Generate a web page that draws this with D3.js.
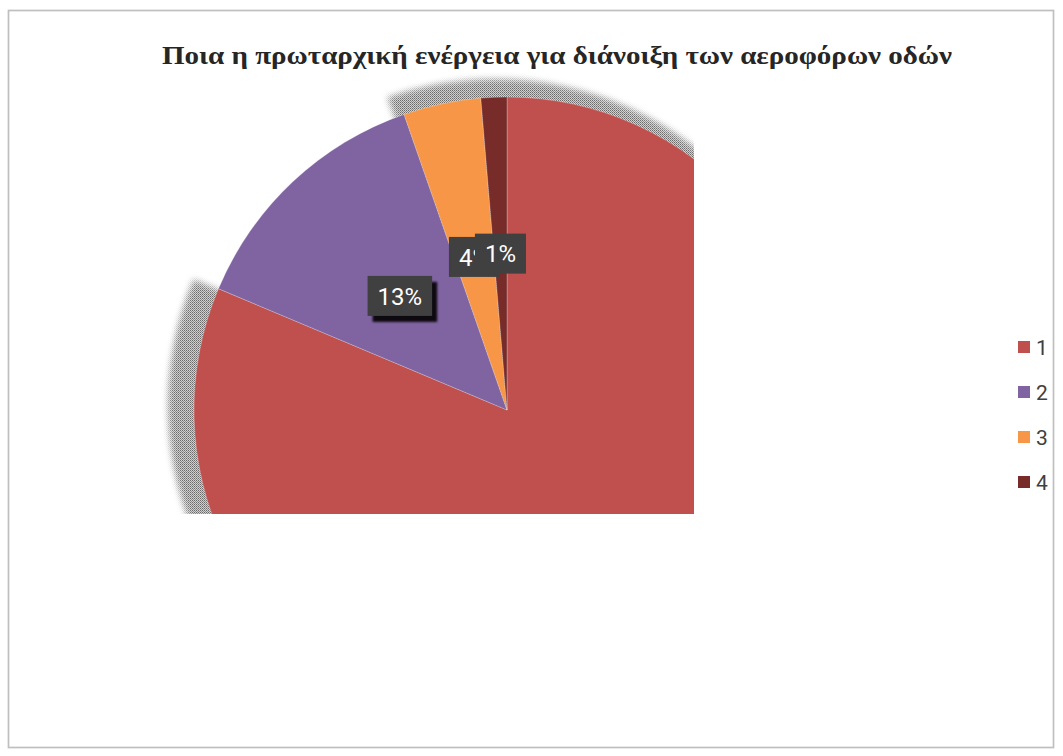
<!DOCTYPE html>
<html>
<head>
<meta charset="utf-8">
<script src="https://cdn.jsdelivr.net/npm/d3@7"></script>
<style>
  html, body { margin: 0; padding: 0; background: #ffffff; }
  svg { display: block; }
</style>
</head>
<body>
<svg id="chart" width="1063" height="756"></svg>
<script>
// Answers to the question (counts per option)
const categories = ["1", "2", "3", "4"];
const counts = [61, 10, 3, 1];
const sliceColors = ["#C0504D", "#8064A2", "#F79646", "#772C2A"];
const titleText = "Ποια η πρωταρχική ενέργεια για διάνοιξη των αεροφόρων οδών";
// slices that carry a drop shadow in the workbook style
const shadowed = [true, false, true, true];

const W = 1063, H = 756;
const cx = 507, cy = 410, R = 313;
const plotClip = { x0: 140, y0: 70, x1: 694, y1: 514 };

const svg = d3.select("#chart");
const defs = svg.append("defs");

// chart frame
svg.append("rect")
  .attr("x", 8.5).attr("y", 10.5)
  .attr("width", 1045).attr("height", 737)
  .attr("fill", "#ffffff")
  .attr("stroke", "#bfbfbf").attr("stroke-width", 1.7);

// title
const title = svg.append("text")
  .attr("x", 557).attr("y", 64)
  .attr("text-anchor", "middle")
  .attr("font-family", "'Liberation Serif', 'Times New Roman', serif")
  .attr("font-weight", "bold")
  .attr("font-size", 24.5)
  .attr("fill", "#262626")
  .text(titleText);
{
  const tw = title.node().getComputedTextLength();
  const target = 790;
  if (Math.abs(tw - target) > 4) {
    title.attr("textLength", target).attr("lengthAdjust", "spacingAndGlyphs");
  }
}

// clip for plot area
defs.append("clipPath").attr("id", "plotClip")
  .append("rect")
  .attr("x", plotClip.x0).attr("y", plotClip.y0)
  .attr("width", plotClip.x1 - plotClip.x0)
  .attr("height", plotClip.y1 - plotClip.y0);

// halftone pattern for shadows
const pat = defs.append("pattern").attr("id", "halftone")
  .attr("width", 2).attr("height", 2)
  .attr("patternUnits", "userSpaceOnUse");
pat.append("rect").attr("width", 2).attr("height", 2).attr("fill", "#d0d0d0");
pat.append("rect").attr("width", 1).attr("height", 1).attr("fill", "#6a6a6a");
pat.append("rect").attr("x", 1).attr("y", 1).attr("width", 1).attr("height", 1).attr("fill", "#8c8c8c");

const blur = defs.append("filter").attr("id", "shadowBlur")
  .attr("x", "-20%").attr("y", "-20%").attr("width", "140%").attr("height", "140%");
blur.append("feGaussianBlur").attr("stdDeviation", 3);

const lblShadow = defs.append("filter").attr("id", "lblShadow")
  .attr("x", "-30%").attr("y", "-30%").attr("width", "160%").attr("height", "160%");
lblShadow.append("feGaussianBlur").attr("stdDeviation", 1.3);

const total = d3.sum(counts);
const pie = d3.pie().sort(null).value(d => d)(counts);
const arc = d3.arc().innerRadius(0).outerRadius(R);
const shadowArc = d3.arc().innerRadius(0).outerRadius(R + 14);

const plot = svg.append("g").attr("clip-path", "url(#plotClip)");

// shadows: blurred mask filled with halftone
const mask = defs.append("mask").attr("id", "shadowMask")
  .attr("maskUnits", "userSpaceOnUse")
  .attr("x", 0).attr("y", 0).attr("width", W).attr("height", H);
mask.append("g")
  .attr("transform", `translate(${cx - 12},${cy - 4})`)
  .attr("filter", "url(#shadowBlur)")
  .selectAll("path")
  .data(pie.filter((d, i) => shadowed[i]))
  .join("path")
  .attr("d", shadowArc)
  .attr("fill", "#ffffff");

plot.append("rect")
  .attr("x", 0).attr("y", 0).attr("width", W).attr("height", H)
  .attr("fill", "url(#halftone)")
  .attr("mask", "url(#shadowMask)");

// slices
const g = plot.append("g").attr("transform", `translate(${cx},${cy})`);
g.selectAll("path.slice")
  .data(pie)
  .join("path")
  .attr("class", "slice")
  .attr("d", arc)
  .attr("fill", (d, i) => sliceColors[i])
  .attr("stroke", "#ffffff")
  .attr("stroke-width", 0.4)
  .attr("stroke-opacity", 0.6);

// percentage labels at slice centroids
const fmt = v => Math.round(v / total * 100) + "%";
const labels = g.selectAll("g.lbl")
  .data(pie)
  .join("g")
  .attr("class", "lbl")
  .attr("transform", d => `translate(${arc.centroid(d)})`);

labels.each(function(d, i) {
  const sel = d3.select(this);
  const txt = sel.append("text")
    .attr("text-anchor", "middle")
    .attr("dy", "0.36em")
    .attr("font-family", "Roboto, 'Liberation Sans', sans-serif")
    .attr("font-size", 24)
    .attr("fill", "#ffffff")
    .text(fmt(d.data));
  const tw = txt.node().getComputedTextLength();
  const bw = tw + 20, bh = 40;
  if (i === 1) {
    sel.insert("rect", "text")
      .attr("x", -bw / 2 + 5).attr("y", -bh / 2 + 6)
      .attr("width", bw).attr("height", bh)
      .attr("fill", "#000000").attr("opacity", 0.9)
      .attr("filter", "url(#lblShadow)");
  }
  sel.insert("rect", "text")
    .attr("x", -bw / 2).attr("y", -bh / 2)
    .attr("width", bw).attr("height", bh)
    .attr("fill", "#404040");
});

// legend
const legend = svg.append("g");
const ly = d3.scalePoint().domain(categories).range([347, 482]);
const li = legend.selectAll("g").data(categories).join("g")
  .attr("transform", d => `translate(1018,${ly(d)})`);
li.append("rect")
  .attr("x", 0).attr("y", -6)
  .attr("width", 12).attr("height", 12)
  .attr("fill", (d, i) => sliceColors[i]);
li.append("text")
  .attr("x", 18).attr("y", 0).attr("dy", "0.36em")
  .attr("font-family", "Roboto, 'Liberation Sans', sans-serif")
  .attr("font-size", 21)
  .attr("fill", "#404040")
  .text(d => d);
</script>
</body>
</html>
